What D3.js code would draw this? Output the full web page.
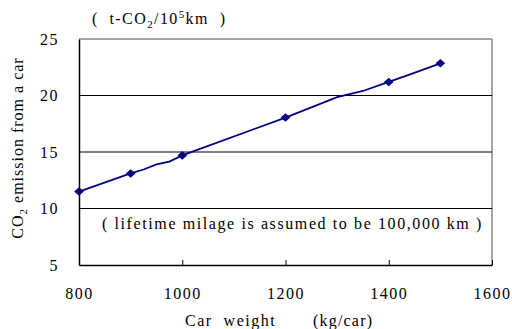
<!DOCTYPE html>
<html>
<head>
<meta charset="utf-8">
<script src="https://cdn.jsdelivr.net/npm/d3@7"></script>
<style>
  body { margin: 0; background: #fff; }
  svg text { fill: #000; }
</style>
</head>
<body>
<figure id="chart" style="margin:0"></figure>
<script>
// measured points (markers)
const weights = [800, 900, 1000, 1200, 1400, 1500];
const emissions = [11.5, 13.1, 14.7, 18.05, 21.2, 22.85];
// the drawn curve has a few extra bends between the markers
const curveWeights = [800, 900, 925, 950, 975, 1000, 1200, 1300, 1350, 1400, 1440, 1500];
const curveEmissions = [11.5, 13.1, 13.45, 13.9, 14.15, 14.7, 18.05, 19.85, 20.4, 21.2, 21.85, 22.85];
const xTicks = [800, 1000, 1200, 1400, 1600];
const yTicks = [5, 10, 15, 20, 25];

const width = 512, height = 329;
const margin = { top: 39, right: 20, bottom: 64, left: 79 };
const w = width - margin.left - margin.right;
const h = height - margin.top - margin.bottom;
const serif = "Liberation Serif";

const svg = d3.select("figure#chart")
  .append("svg")
  .attr("width", width)
  .attr("height", height)
  .attr("font-family", serif);

const g = svg.append("g")
  .attr("transform", "translate(" + margin.left + "," + margin.top + ")");

const x = d3.scaleLinear().domain([800, 1600]).range([0, w]);
const y = d3.scaleLinear().domain([5, 25]).range([h, 0]);

// frame (top and right in grey)
g.append("line").attr("x1", 0).attr("x2", w).attr("y1", 0).attr("y2", 0)
  .attr("stroke", "#888").attr("stroke-width", 1.5);
g.append("line").attr("x1", w).attr("x2", w).attr("y1", 0).attr("y2", h)
  .attr("stroke", "#888").attr("stroke-width", 1.5);

// gridlines
g.selectAll(".grid")
  .data(yTicks.filter(d => d > 5 && d < 25))
  .enter()
  .append("line")
  .attr("x1", 0).attr("x2", w)
  .attr("y1", d => y(d)).attr("y2", d => y(d))
  .attr("stroke", "#000").attr("stroke-width", 1);

// x axis
const xAxis = g.append("g")
  .attr("transform", "translate(0," + h + ")")
  .call(d3.axisBottom(x).tickValues(xTicks).tickFormat(d3.format("d"))
    .tickSize(-5).tickPadding(23).tickSizeOuter(0));
xAxis.attr("font-family", serif);
xAxis.select(".domain").attr("stroke", "#000").attr("stroke-width", 1.5);
xAxis.selectAll("text").attr("font-size", 16).attr("letter-spacing", 1.5);

// y axis
const yAxis = g.append("g")
  .call(d3.axisLeft(y).tickValues(yTicks).tickSize(0).tickPadding(20).tickSizeOuter(0));
yAxis.attr("font-family", serif);
yAxis.select(".domain").attr("stroke", "#000").attr("stroke-width", 1.5);
yAxis.selectAll("text").attr("font-size", 16).attr("letter-spacing", 1.5);

// line
const line = d3.line().x((d, i) => x(curveWeights[i])).y(d => y(d));
g.append("path")
  .datum(curveEmissions)
  .attr("fill", "none")
  .attr("stroke", "#000080")
  .attr("stroke-width", 1.8)
  .attr("d", line);

// markers (squat diamonds)
g.selectAll(".pt")
  .data(emissions)
  .enter()
  .append("path")
  .attr("d", "M-4.8,0L0,-4.3L4.8,0L0,4.3Z")
  .attr("transform", (d, i) => "translate(" + x(weights[i]) + "," + y(d) + ")")
  .attr("fill", "#000080");

// unit label at top
const unit = svg.append("text")
  .attr("x", 92).attr("y", 24)
  .attr("font-size", 16)
  .attr("letter-spacing", 1.4)
  .attr("xml:space", "preserve");
unit.append("tspan").text("(  t-CO");
unit.append("tspan").attr("font-size", 11).attr("dy", 4).text("2");
unit.append("tspan").attr("dy", -4).text("/10");
unit.append("tspan").attr("font-size", 11).attr("dy", -6).text("5");
unit.append("tspan").attr("dy", 6).text("km  )");

// note inside the plot
g.append("text")
  .attr("x", 23).attr("y", y(10) + 20)
  .attr("font-size", 16)
  .attr("letter-spacing", 1.6)
  .attr("xml:space", "preserve")
  .text("( lifetime milage is assumed to be 100,000 km )");

// x label
svg.append("text")
  .attr("x", 185).attr("y", 326)
  .attr("font-size", 16)
  .attr("letter-spacing", 1.5)
  .attr("xml:space", "preserve")
  .text("Car  weight");
svg.append("text")
  .attr("x", 313).attr("y", 326)
  .attr("font-size", 16)
  .attr("letter-spacing", 1.2)
  .text("(kg/car)");

// y label
const yl = svg.append("text")
  .attr("transform", "translate(23,148) rotate(-90)")
  .attr("text-anchor", "middle")
  .attr("font-size", 16)
  .attr("letter-spacing", 1);
yl.append("tspan").text("CO");
yl.append("tspan").attr("font-size", 11).attr("dy", 4).text("2");
yl.append("tspan").attr("dy", -4).text(" emission from a car");
</script>
</body>
</html>
